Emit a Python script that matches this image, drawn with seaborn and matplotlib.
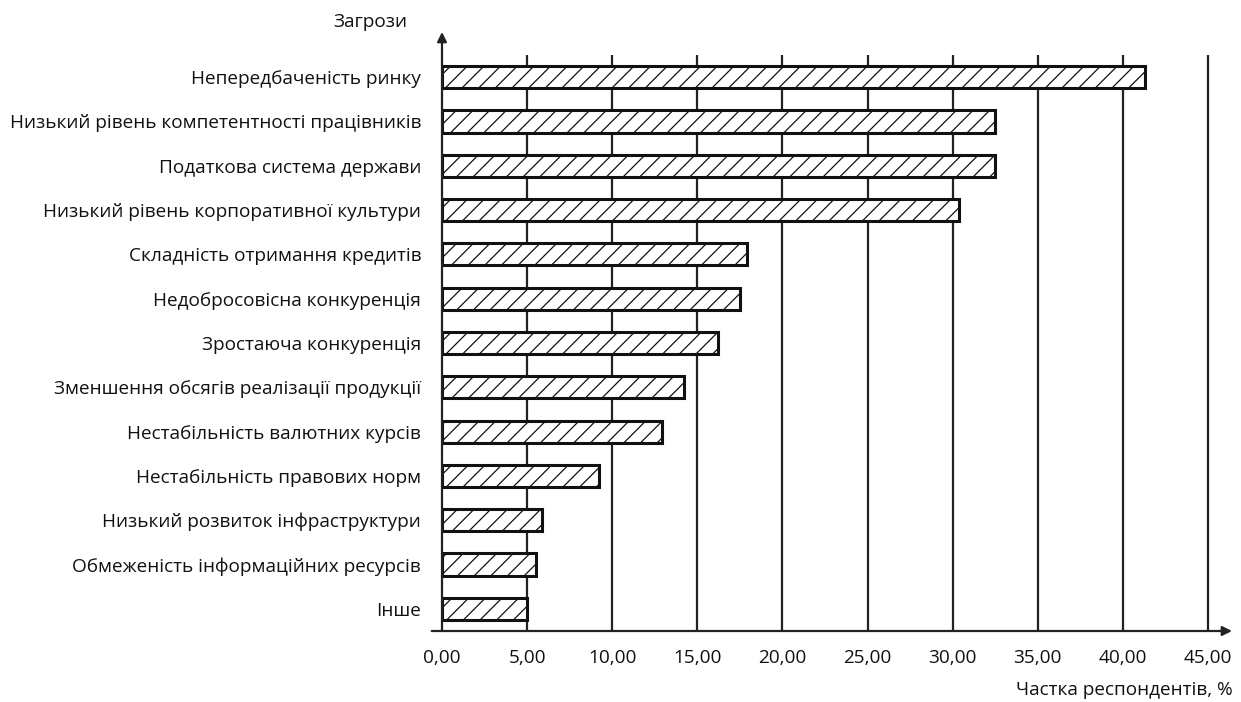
import numpy as np
import pandas as pd
import matplotlib
matplotlib.use('Agg')
import matplotlib.pyplot as plt
import seaborn as sns

# Data
threats = [
    'Непередбаченість ринку',
    'Низький рівень компетентності працівників',
    'Податкова система держави',
    'Низький рівень корпоративної культури',
    'Складність отримання кредитів',
    'Недобросовісна конкуренція',
    'Зростаюча конкуренція',
    'Зменшення обсягів реалізації продукції',
    'Нестабільність валютних курсів',
    'Нестабільність правових норм',
    'Низький розвиток інфраструктури',
    'Обмеженість інформаційних ресурсів',
    'Інше',
]
share = [41.3, 32.5, 32.5, 30.4, 17.9, 17.5, 16.2, 14.2, 12.9, 9.2, 5.9, 5.5, 5.0]
x_ticks = [0, 5, 10, 15, 20, 25, 30, 35, 40, 45]

df = pd.DataFrame({'threat': threats, 'share': share})

sns.set_style('white')
plt.rcParams['font.family'] = ['Open Sans', 'DejaVu Sans']
plt.rcParams['text.color'] = '#111111'
plt.rcParams['xtick.color'] = '#111111'
plt.rcParams['ytick.color'] = '#111111'
plt.rcParams['hatch.linewidth'] = 0.9
plt.rcParams['hatch.color'] = '#222222'

fs = 13.7

fig = plt.figure(figsize=(12.41, 7.02), dpi=100)
ax = fig.add_axes([442 / 1241, 1 - 631 / 702, (1232 - 442) / 1241, (631 - 55) / 702])

sns.barplot(data=df, x='share', y='threat', orient='h', color='white',
            edgecolor='#111111', linewidth=2.2, width=0.5, ax=ax, zorder=3)
for p in ax.patches:
    p.set_hatch('//')
    p.set_facecolor('white')

ax.set_xlim(0, (1232 - 442) / 17.02)
ax.set_ylim(len(threats) - 0.5, -0.5)

# gridlines
for v in x_ticks[1:]:
    ax.axvline(v, color='#222222', lw=1.6, zorder=1)

ax.set_xticks(x_ticks)
ax.set_xticklabels([f'{v:.2f}'.replace('.', ',') for v in x_ticks], fontsize=fs)
ax.tick_params(axis='x', direction='out', length=7, width=1.6, color='#222222', pad=6)

ax.set_yticks(range(len(threats)))
ax.set_yticklabels(threats, fontsize=fs)
ax.set_yticks(np.arange(-0.5, len(threats) - 0.5, 1), minor=True)
ax.tick_params(axis='y', which='major', length=0, pad=15)
ax.tick_params(axis='y', which='minor', direction='out', length=8, width=1.6, color='#222222')

for s in ax.spines.values():
    s.set_visible(False)

# axes with arrows
ax.annotate('', xy=(0, 1.04), xytext=(0, 0), xycoords='axes fraction',
            arrowprops=dict(arrowstyle='-|>', color='#222222', lw=1.6,
                            mutation_scale=14, shrinkA=0, shrinkB=0), annotation_clip=False)
ax.annotate('', xy=(1.0, 0), xytext=(-0.013, 0), xycoords='axes fraction',
            arrowprops=dict(arrowstyle='-|>', color='#222222', lw=1.6,
                            mutation_scale=14, shrinkA=0, shrinkB=0), annotation_clip=False)

ax.set_xlabel('')
ax.set_ylabel('')

fig.text(370 / 1241, 1 - 22 / 702, 'Загрози', fontsize=fs, ha='center', va='center')
fig.text(1233 / 1241, 1 - 690 / 702, 'Частка респондентів, %', fontsize=fs,
         ha='right', va='center')

fig.savefig('out.png', dpi=100)
